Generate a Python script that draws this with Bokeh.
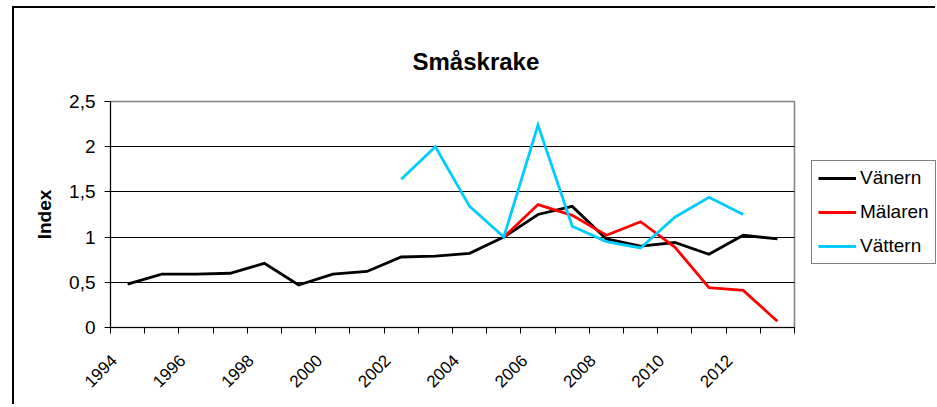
import math
from bokeh.plotting import figure
from bokeh.layouts import row
from bokeh.models import Range1d, FixedTicker, Legend, LegendItem
from bokeh.embed import file_html
from bokeh.resources import INLINE

# ---- data ----
years = list(range(1994, 2014))
vanern = [0.48, 0.59, 0.59, 0.60, 0.71, 0.47, 0.59, 0.62, 0.78, 0.79,
          0.82, 1.00, 1.25, 1.34, 0.98, 0.90, 0.94, 0.81, 1.02, 0.98]
malaren = [None] * 11 + [1.00, 1.36, 1.24, 1.02, 1.17, 0.89, 0.44, 0.41, 0.07]
vattern = [None] * 8 + [1.64, 2.00, 1.34, 1.00, 2.24, 1.12, 0.95, 0.88,
                        1.22, 1.44, 1.25, None]
series_names = ["Vänern", "Mälaren", "Vättern"]
y_tick_values = [0, 0.5, 1, 1.5, 2, 2.5]
y_tick_labels = ["0", "0,5", "1", "1,5", "2", "2,5"]
x_label_years = years[::2]
colors = ["black", "#FF0000", "#00CCFF"]

FONT = "Liberation Sans"
H = 398

p = figure(width=784, height=H, output_backend="svg", toolbar_location=None,
           x_range=Range1d(0, len(years)), y_range=Range1d(0, 2.5),
           min_border_left=96, min_border_right=4,
           min_border_top=93, min_border_bottom=79)
p.background_fill_color = "white"
p.border_fill_color = "white"
p.outline_line_color = "#808080"
p.outline_line_width = 1.5

# title
p.title.text = "Småskrake"
p.title.text_font = FONT
p.title.text_font_size = "24px"
p.title.text_font_style = "bold"
p.title.text_color = "black"
p.title.align = "left"
p.title.offset = 302
p.title.standoff = 53

# x axis: labels near category centres, ticks at category boundaries
def xlab(year):
    return years.index(year) + 0.1

xa = p.xaxis[0]
xa.ticker = FixedTicker(ticks=[xlab(y) for y in x_label_years],
                        minor_ticks=list(range(len(years) + 1)))
xa.major_label_overrides = {xlab(y): str(y) for y in x_label_years}
xa.major_label_orientation = math.pi / 4
xa.major_label_text_font = FONT
xa.major_label_text_font_size = "17px"
xa.major_label_text_color = "black"
xa.major_label_standoff = 24
xa.major_tick_line_color = None
xa.minor_tick_line_color = "black"
xa.minor_tick_out = 6
xa.minor_tick_in = 0
xa.axis_line_color = "black"

ya = p.yaxis[0]
ya.ticker = FixedTicker(ticks=y_tick_values)
ya.major_label_overrides = dict(zip(y_tick_values, y_tick_labels))
ya.major_label_text_font = FONT
ya.major_label_text_font_size = "19px"
ya.major_label_text_color = "black"
ya.major_label_standoff = 9
ya.major_tick_out = 6
ya.major_tick_in = 0
ya.minor_tick_line_color = None
ya.axis_line_color = "black"
ya.axis_label = "Index"
ya.axis_label_text_font = FONT
ya.axis_label_text_font_size = "19px"
ya.axis_label_text_font_style = "bold"
ya.axis_label_text_color = "black"
ya.axis_label_standoff = 11

p.xgrid.visible = False
p.ygrid.ticker = FixedTicker(ticks=[0.5, 1, 1.5, 2])
p.ygrid.grid_line_color = "black"
p.ygrid.grid_line_width = 1

series = []
for vals in [vanern, malaren, vattern]:
    xs = [years.index(yr) + 0.5 for yr, v in zip(years, vals) if v is not None]
    ys = [v for v in vals if v is not None]
    series.append((xs, ys))

for (xs, ys), col in zip(series, colors):
    p.line(xs, ys, line_color=col, line_width=2.8, line_join="miter")

# legend panel to the right of the plot
q = figure(width=139, height=H, output_backend="svg", toolbar_location=None,
           x_axis_location=None, y_axis_location=None,
           min_border=0)
q.outline_line_color = None
q.grid.visible = False
q.background_fill_color = "white"
q.border_fill_color = "white"
leg_renderers = [q.line(xs, ys, line_color=c, line_width=2.8, visible=False)
                 for (xs, ys), c in zip(series, colors)]

legend = Legend(items=[LegendItem(label=n, renderers=[r]) for n, r in zip(series_names, leg_renderers)],
                location=(13, 63))
legend.border_line_color = "black"
legend.border_line_width = 1
legend.background_fill_color = "white"
legend.background_fill_alpha = 1
legend.inactive_fill_alpha = 0
legend.padding = 6
legend.spacing = 12
legend.margin = 0
legend.glyph_width = 38
legend.glyph_height = 20
legend.label_height = 20
legend.label_standoff = 4
legend.label_text_font = FONT
legend.label_text_font_size = "19px"
legend.label_text_color = "black"
q.add_layout(legend, "center")

layout = row(p, q)
# outer chart-area edge (left and top) drawn as a shadow outside the layout box
layout.styles = {"margin-left": "14px", "margin-top": "8px",
                 "box-shadow": "-2px -2px 0px 0px black"}

open("out.html", "w").write(file_html(layout, INLINE))
